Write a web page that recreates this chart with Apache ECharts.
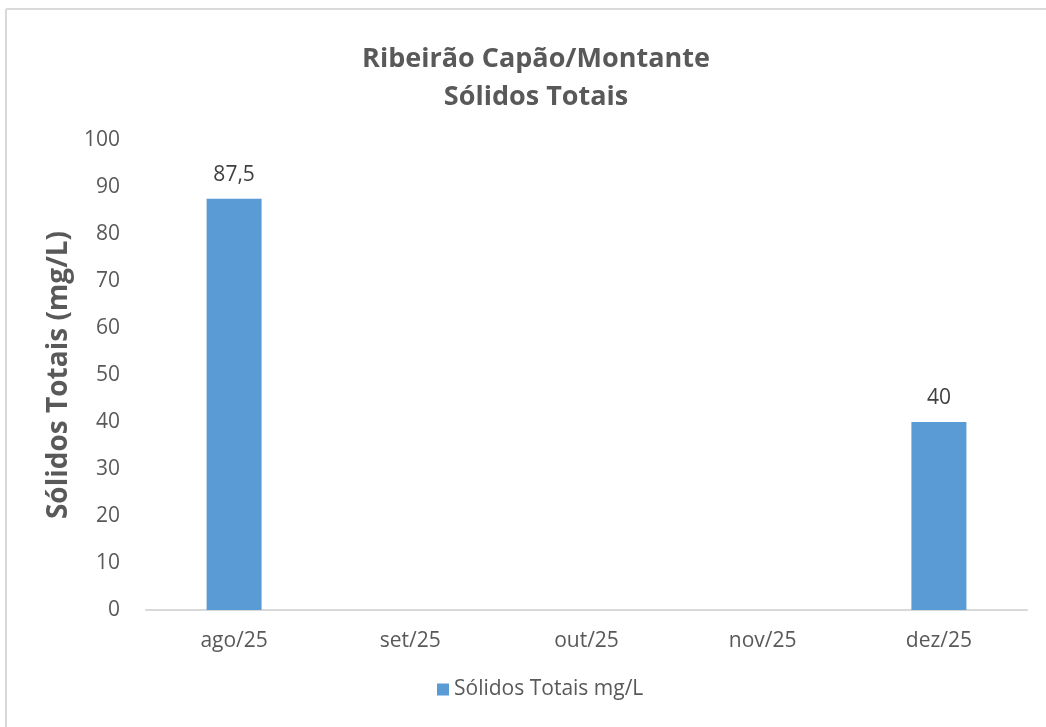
<!DOCTYPE html>
<html>
<head>
<meta charset="utf-8">
<script src="https://cdn.jsdelivr.net/npm/echarts@6/dist/echarts.min.js"></script>
<style>
  html, body { margin: 0; padding: 0; background: #fff; }
  #chart { width: 1046px; height: 727px; }
</style>
</head>
<body>
<div id="chart"></div>
<script>
const categories = ['ago/25', 'set/25', 'out/25', 'nov/25', 'dez/25'];
const solidosTotais = [87.5, null, null, null, 40];
const yTicks = { min: 0, max: 100, interval: 10 };

const myChart = echarts.init(document.getElementById('chart'));
const textFont = 'Open Sans, sans-serif';

const option = {
  backgroundColor: '#fff',
  animation: false,
  title: {
    text: 'Ribeirão Capão/Montante\nSólidos Totais',
    left: 531,
    textAlign: 'center',
    top: 35,
    textStyle: {
      color: '#595959',
      fontFamily: textFont,
      fontWeight: 'bold',
      fontSize: 27,
      lineHeight: 38
    }
  },
  graphic: [
    { type: 'line', shape: { x1: 6, y1: 9, x2: 1046, y2: 9 }, style: { stroke: '#d9d9d9', lineWidth: 2 } },
    { type: 'line', shape: { x1: 6, y1: 9, x2: 6, y2: 727 }, style: { stroke: '#d9d9d9', lineWidth: 2 } }
  ],
  grid: { left: 146, right: 19, top: 140, bottom: 117, containLabel: false },
  legend: {
    bottom: 22,
    left: 432,
    itemWidth: 12,
    itemHeight: 12,
    itemGap: 4,
    icon: 'rect',
    textStyle: { color: '#595959', fontFamily: textFont, fontSize: 21 },
    data: ['Sólidos Totais mg/L']
  },
  xAxis: {
    type: 'category',
    data: categories,
    axisTick: { show: false },
    axisLine: { lineStyle: { color: '#d9d9d9', width: 2 } },
    axisLabel: { color: '#595959', fontFamily: textFont, fontSize: 21, margin: 21 }
  },
  yAxis: {
    type: 'value',
    min: yTicks.min,
    max: yTicks.max,
    interval: yTicks.interval,
    name: 'Sólidos Totais (mg/L)',
    nameLocation: 'middle',
    nameGap: 62,
    nameTextStyle: { color: '#595959', fontFamily: textFont, fontWeight: 'bold', fontSize: 28 },
    axisLine: { show: false },
    axisTick: { show: false },
    splitLine: { show: false },
    axisLabel: { color: '#595959', fontFamily: textFont, fontSize: 21, margin: 26 }
  },
  series: [{
    name: 'Sólidos Totais mg/L',
    type: 'bar',
    data: solidosTotais,
    barWidth: 55,
    itemStyle: { color: '#5b9bd5' },
    label: {
      show: true,
      position: 'top',
      distance: 13,
      color: '#404040',
      fontFamily: textFont,
      fontSize: 21,
      formatter: p => String(p.value).replace('.', ',')
    }
  }]
};
myChart.setOption(option);
</script>
</body>
</html>
